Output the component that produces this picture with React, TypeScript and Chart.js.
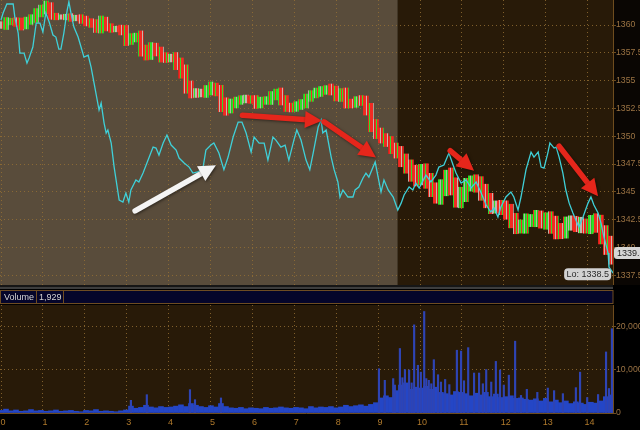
import React, { useEffect, useRef } from 'react';
import { Chart, registerables } from 'chart.js';

Chart.register(...registerables);

// ---------- data ----------
const hourTicks = [0, 1, 2, 3, 4, 5, 6, 7, 8, 9, 10, 11, 12, 13, 14];
const priceTicks = [1337.5, 1340, 1342.5, 1345, 1347.5, 1350, 1352.5, 1355, 1357.5, 1360];
const volumeTicks = [0, 10000, 20000];
const xMin = -0.024;
const xMax = 14.606;
const priceMin = 1336.63;
const priceMax = 1362.25;
const volumeMax = 25116;
const sessionBreak = 9.47;
const priceStep = 0.1193; // hours between sampled bars

const priceMid = [
  1360.0, 1360.27, 1360.36, 1360.18, 1360.0, 1360.36, 1360.63, 1361.08, 1361.44, 1361.71,
  1360.81, 1360.72, 1360.72, 1360.72, 1360.63, 1360.63, 1360.45, 1360.27, 1360.09, 1359.73,
  1360.36, 1359.82, 1359.64, 1359.64, 1359.46,
  1358.65, 1358.83, 1358.92, 1357.75, 1357.3, 1358.02, 1357.57, 1357.12, 1357.03, 1357.03,
  1356.49, 1355.77, 1354.52, 1353.89, 1353.89, 1353.89, 1354.16, 1354.43, 1353.98, 1352.81,
  1352.54, 1352.9, 1353.17, 1353.35, 1353.35,
  1353.26, 1352.9, 1353.17, 1353.26, 1353.62, 1353.89, 1353.26, 1352.63, 1352.54, 1352.81,
  1352.9, 1353.44, 1353.8, 1353.98, 1354.07, 1354.25, 1354.16, 1353.53, 1353.89, 1352.99,
  1352.9, 1353.26, 1353.17, 1352.36, 1351.01,
  1350.29, 1349.84, 1349.48, 1348.94, 1348.49, 1347.86, 1347.23, 1346.6, 1346.33, 1346.78,
  1346.07, 1345.17, 1344.63, 1345.35, 1346.25, 1345.62, 1344.27, 1344.72, 1345.62, 1345.89,
  1345.62, 1344.99, 1344.27, 1343.64, 1343.64,
  1343.55, 1343.19, 1342.47, 1341.84, 1341.93, 1342.38, 1342.47, 1342.74, 1342.29, 1342.47,
  1342.02, 1341.57, 1341.39, 1342.2, 1342.2, 1342.02, 1342.02, 1341.84, 1342.29, 1342.11,
  1341.12, 1340.22, 1339.3,
];

const priceRange = [
  0.6, 0.8, 0.5, 0.6, 0.9, 0.7, 0.6, 0.8, 0.7, 0.9, 0.6, 0.5, 0.4, 0.5, 0.6, 0.5, 0.6, 0.7, 0.6, 0.8, 0.9, 0.7, 0.6, 0.5, 0.7,
  1.0, 0.8, 0.7, 1.1, 0.9, 0.8, 0.7, 0.9, 0.8, 0.7, 1.0, 1.1, 1.3, 0.9, 0.8, 0.7, 0.8, 0.9, 0.7, 1.2, 1.3, 0.9, 0.7, 0.6, 0.7,
  0.6, 0.8, 0.7, 0.6, 0.8, 0.7, 0.9, 0.8, 0.7, 0.6, 0.8, 0.7, 0.6, 0.7, 0.8, 0.6, 0.9, 0.7, 0.8, 0.9, 0.7, 0.6, 0.8, 0.9, 1.2,
  1.0, 0.9, 0.8, 1.0, 0.9, 1.2, 1.1, 1.3, 1.6, 1.4, 1.5, 1.2, 1.3, 1.5, 1.4, 1.8, 1.3, 1.4, 1.2, 1.1, 1.3, 1.5, 1.4, 1.2, 1.1,
  1.2, 1.3, 1.4, 1.2, 1.1, 1.3, 1.0, 1.2, 1.1, 1.3, 1.5, 1.6, 1.2, 1.1, 1.3, 1.2, 1.4, 1.1, 1.2, 1.5, 1.6, 1.7, 1.6,
];

const cyanTime = [
  0.0, 0.05, 0.14, 0.29, 0.33, 0.41, 0.45, 0.55, 0.62, 0.67, 0.76, 0.84, 0.93, 1.0, 1.07, 1.15, 1.24, 1.31, 1.38, 1.43,
  1.5, 1.58, 1.62, 1.67, 1.74, 1.84, 1.91, 1.98, 2.08, 2.15, 2.22, 2.34, 2.39, 2.46, 2.51, 2.55, 2.63, 2.7, 2.82, 2.91,
  2.98, 3.05, 3.1, 3.22, 3.29, 3.39, 3.51, 3.63, 3.7, 3.77, 3.87, 3.96, 4.06, 4.18, 4.25, 4.37, 4.49, 4.58, 4.7, 4.82,
  4.89, 5.01, 5.08, 5.2, 5.32, 5.42, 5.54, 5.66, 5.75, 5.85, 5.97, 6.04, 6.16, 6.28, 6.37, 6.49, 6.56, 6.68, 6.78, 6.87,
  6.99, 7.06, 7.16, 7.28, 7.37, 7.45, 7.57, 7.64, 7.68, 7.76, 7.88, 7.95, 8.04, 8.09, 8.16, 8.28, 8.4, 8.45, 8.54, 8.64,
  8.71, 8.78, 8.88, 8.93, 9.0, 9.07, 9.14, 9.24, 9.36, 9.47, 9.55, 9.62, 9.74, 9.83, 9.9, 9.98, 10.14, 10.26, 10.38, 10.45,
  10.57, 10.69, 10.79, 10.86, 10.98, 11.1, 11.22, 11.34, 11.46, 11.58, 11.69, 11.77, 11.86, 11.93, 12.05, 12.17, 12.24, 12.34, 12.41, 12.53,
  12.65, 12.72, 12.82, 12.89, 12.96, 13.05, 13.1, 13.2, 13.25, 13.32, 13.41, 13.48, 13.56, 13.65, 13.72, 13.79, 13.89, 14.01, 14.08, 14.15,
  14.25, 14.32, 14.39, 14.49, 14.51, 14.61,
];

const cyanValue = [
  1360.45, 1361.08, 1361.89, 1361.89, 1360.72, 1359.28, 1357.48, 1357.48, 1356.58, 1357.03, 1358.02, 1360.18, 1360.18, 1359.37, 1361.08, 1360.27, 1359.1, 1358.92, 1357.84, 1357.84,
  1359.28, 1361.35, 1362.1, 1361.08, 1359.82, 1358.92, 1358.02, 1357.12, 1357.3, 1356.22, 1354.79, 1352.36, 1352.99, 1351.19, 1350.29, 1350.56, 1349.39, 1347.23, 1344.27, 1344.09,
  1344.9, 1344.09, 1345.17, 1346.07, 1345.89, 1346.69, 1347.86, 1349.03, 1348.94, 1348.31, 1349.39, 1350.11, 1349.21, 1348.76, 1348.04, 1347.59, 1347.23, 1346.69, 1346.79, 1347.14,
  1348.76, 1349.21, 1349.39, 1348.49, 1347.0, 1348.13, 1349.93, 1351.28, 1351.28, 1350.29, 1348.58, 1349.93, 1349.39, 1349.39, 1347.86, 1349.93, 1349.66, 1349.03, 1349.21, 1347.86,
  1349.66, 1350.56, 1349.66, 1347.86, 1347.0, 1348.49, 1350.83, 1351.46, 1350.29, 1350.56, 1348.13, 1347.0, 1345.89, 1344.54, 1345.17, 1344.54, 1344.54, 1345.17, 1345.44, 1346.25,
  1346.69, 1346.33, 1347.23, 1347.68, 1346.33, 1344.99, 1346.07, 1345.17, 1344.54, 1343.37, 1343.99, 1344.72, 1345.44, 1345.17, 1345.79, 1345.35, 1346.51, 1345.89, 1346.51, 1347.23,
  1347.41, 1348.49, 1347.41, 1346.69, 1345.79, 1346.07, 1345.35, 1345.89, 1344.9, 1343.82, 1343.19, 1343.55, 1342.74, 1343.64, 1344.54, 1344.99, 1344.54, 1343.37, 1344.54, 1347.0,
  1348.58, 1348.13, 1348.58, 1347.23, 1347.14, 1348.49, 1349.39, 1348.94, 1349.03, 1348.13, 1346.69, 1345.17, 1343.99, 1343.1, 1342.47, 1341.84, 1342.74, 1343.99, 1344.54, 1343.82,
  1343.1, 1342.2, 1340.94, 1339.5, 1338.24, 1337.7,
];

const volumeBase = [
  600, 900, 500, 700, 400, 500, 800, 500, 600, 400, 500, 700, 400, 500, 600, 400, 300, 600, 500, 800, 400, 500, 400, 300, 500,
  700, 1600, 1100, 1300, 1800, 1400, 1200, 1500, 1300, 1400,
  1600, 1900, 1500, 2200, 1800, 1500, 1300, 1700, 1400, 2200,
  1500, 1200, 1100, 1300, 1000, 1200, 1100, 1000, 1300, 1100,
  1200, 1400, 1200, 1100, 1300, 1200, 1000, 1500, 1200, 1400,
  1300, 1500, 1200, 1400, 1800, 1500, 1700, 1900, 1600, 2000,
  2400,
  3500, 4000, 3600, 5200, 6500, 7000, 5500, 6000, 5800, 6200,
  5500, 6000, 4800, 4500, 4200, 5000, 4800, 4500, 4000, 4600,
  4200, 4800, 3800, 4400, 3600, 3800, 4000, 3400, 3500, 3200,
  3000, 3300, 2800, 3400, 2600, 3000, 2400, 2800, 2200, 2600,
  2300, 2000, 2500, 2300, 2800, 3800, 4200,
];

const spikeTime = [
  3.1, 3.48, 4.51, 4.63, 5.25, 9.02, 9.16, 9.36, 9.4, 9.52, 9.58, 9.64, 9.74, 9.8, 9.86, 9.95, 10.02, 10.1, 10.15, 10.21,
  10.27, 10.33, 10.43, 10.5, 10.6, 10.7, 10.88, 10.98, 11.05, 11.15, 11.29, 11.41, 11.5, 11.58, 11.7, 11.81, 11.91, 12.0, 12.12, 12.27,
  12.41, 12.55, 12.8, 13.05, 13.2, 13.41, 13.72, 13.82, 13.99, 14.25, 14.44, 14.51, 14.58,
];
const spikeVolume = [
  2950, 4260, 5430, 3100, 3500, 10300, 7600, 8000, 6500, 15000, 8200, 10100, 10000, 7000, 20500, 11100, 9500, 23600, 8000, 7600,
  6800, 12400, 8900, 7200, 7800, 6600, 14600, 14400, 7500, 15200, 9300, 9300, 6800, 10100, 7200, 12000, 10000, 6500, 8800, 16700,
  4100, 5500, 4800, 5800, 5200, 4500, 5900, 9500, 3600, 4300, 14200, 5700, 19600,
];

const lastPrice = 1339.5;
const lowPrice = 1338.5;
const lowTime = 14.55;
const lastVolume = 1929;

// annotation arrows in data units (hours, price)
const arrowFromT = [3.2, 5.76, 7.71, 10.72, 13.32];
const arrowFromP = [1343.3, 1351.9, 1351.3, 1348.7, 1349.1];
const arrowToT = [5.13, 7.66, 8.95, 11.29, 14.25];
const arrowToP = [1347.4, 1351.4, 1348.1, 1346.9, 1344.6];
const arrowColor = ['#f4f4f4', '#e5261b', '#e5261b', '#e5261b', '#e5261b'];

// ---------- styles ----------
const GRID = 'rgba(150,112,52,0.8)';
const AXIS = '#6e4c1e';
const LABEL = '#9c7444';
const XLABEL = '#b07a2c';
const GRAY_BG = '#594c3b';
const DARK_BG = '#281a08';
const FONT = 'Liberation Sans';

function stripePattern(cols: string[]) {
  const c = document.createElement('canvas');
  c.width = cols.length;
  c.height = 1;
  const g = c.getContext('2d')!;
  cols.forEach((col, i) => {
    g.fillStyle = col;
    g.fillRect(i, 0, 1, 1);
  });
  return g.createPattern(c, 'repeat')!;
}

function drawArrow(ctx: CanvasRenderingContext2D, x1: number, y1: number, x2: number, y2: number, color: string) {
  const dx = x2 - x1;
  const dy = y2 - y1;
  const len = Math.hypot(dx, dy);
  const ux = dx / len;
  const uy = dy / len;
  const headLen = 17;
  const headW = 8.5;
  const bx = x2 - ux * headLen;
  const by = y2 - uy * headLen;
  ctx.save();
  ctx.shadowColor = 'rgba(0,0,0,0.5)';
  ctx.shadowBlur = 3;
  ctx.shadowOffsetX = 1;
  ctx.shadowOffsetY = 1;
  ctx.strokeStyle = color;
  ctx.fillStyle = color;
  ctx.lineWidth = 5.5;
  ctx.lineCap = 'round';
  ctx.beginPath();
  ctx.moveTo(x1, y1);
  ctx.lineTo(bx + ux * 2, by + uy * 2);
  ctx.stroke();
  ctx.beginPath();
  ctx.moveTo(x2, y2);
  ctx.lineTo(bx - uy * headW, by + ux * headW);
  ctx.lineTo(bx + uy * headW, by - ux * headW);
  ctx.closePath();
  ctx.fill();
  ctx.restore();
}

function roundRect(ctx: CanvasRenderingContext2D, x: number, y: number, w: number, h: number, r: number) {
  ctx.beginPath();
  ctx.moveTo(x + r, y);
  ctx.lineTo(x + w - r, y);
  ctx.quadraticCurveTo(x + w, y, x + w, y + r);
  ctx.lineTo(x + w, y + h - r);
  ctx.quadraticCurveTo(x + w, y + h, x + w - r, y + h);
  ctx.lineTo(x + r, y + h);
  ctx.quadraticCurveTo(x, y + h, x, y + h - r);
  ctx.lineTo(x, y + r);
  ctx.quadraticCurveTo(x, y, x + r, y);
  ctx.closePath();
}

export default function App() {
  const mainRef = useRef<HTMLCanvasElement | null>(null);
  const volRef = useRef<HTMLCanvasElement | null>(null);

  useEffect(() => {
    if (!mainRef.current || !volRef.current) return;

    const upFill = stripePattern(['#2ee02a', '#2ee02a', '#b9b0a6', '#22c81e', '#2ee02a', '#f22a22']);
    const downFill = stripePattern(['#f22a22', '#f22a22', '#c4b8ac', '#e01e18', '#f22a22', '#2ee02a', '#f22a22']);
    const flatFill = stripePattern(['#c0b6aa', '#c0b6aa', '#f22a22', '#c0b6aa', '#2ee02a']);

    const priceBars = priceMid.map((m, i) => {
      const prev = i === 0 ? m : priceMid[i - 1];
      const lo = Math.min(prev, m) - priceRange[i] / 2;
      const hi = Math.max(prev, m) + priceRange[i] / 2;
      return { x: i * priceStep, y: [lo, hi] };
    });
    const barColors = priceMid.map((m, i) => {
      const d = i === 0 ? 0 : m - priceMid[i - 1];
      if (d > 0.04) return upFill;
      if (d < -0.04) return downFill;
      return flatFill;
    });

    const mainBg = {
      id: 'mainBg',
      beforeDraw(chart: any) {
        const { ctx, chartArea: a, scales } = chart;
        ctx.save();
        ctx.fillStyle = '#0a0603';
        ctx.fillRect(0, 0, chart.width, chart.height);
        const xb = scales.x.getPixelForValue(sessionBreak);
        ctx.fillStyle = GRAY_BG;
        ctx.fillRect(a.left, a.top, xb - a.left, a.bottom - a.top);
        ctx.fillStyle = DARK_BG;
        ctx.fillRect(xb, a.top, a.right - xb, a.bottom - a.top);
        ctx.restore();
      },
      afterDatasetsDraw(chart: any) {
        const { ctx, scales } = chart;
        for (let i = 0; i < arrowFromT.length; i++) {
          drawArrow(
            ctx,
            scales.x.getPixelForValue(arrowFromT[i]),
            scales.y.getPixelForValue(arrowFromP[i]),
            scales.x.getPixelForValue(arrowToT[i]),
            scales.y.getPixelForValue(arrowToP[i]),
            arrowColor[i],
          );
        }
      },
      afterDraw(chart: any) {
        const { ctx, chartArea: a, scales } = chart;
        ctx.save();
        ctx.strokeStyle = AXIS;
        ctx.lineWidth = 1;
        ctx.beginPath();
        ctx.moveTo(a.right + 0.5, a.top);
        ctx.lineTo(a.right + 0.5, a.bottom);
        ctx.stroke();
        // last price tag
        const ly = scales.y.getPixelForValue(lastPrice);
        ctx.fillStyle = '#d6d6d6';
        roundRect(ctx, a.right + 1, ly - 6, 34, 12, 3);
        ctx.fill();
        ctx.fillStyle = '#1e1e1e';
        ctx.font = `9px "${FONT}"`;
        ctx.textBaseline = 'middle';
        ctx.textAlign = 'left';
        ctx.fillText(lastPrice.toFixed(1), a.right + 4, ly + 0.5);
        // low tag
        const lx = scales.x.getPixelForValue(lowTime);
        const lowY = scales.y.getPixelForValue(lowPrice);
        const txt = 'Lo: ' + lowPrice.toFixed(1);
        const w = 47;
        ctx.fillStyle = '#d2d2d2';
        roundRect(ctx, lx + 0.5 - w, lowY + 4, w, 12, 4);
        ctx.fill();
        ctx.fillStyle = '#2a2a2a';
        ctx.textAlign = 'center';
        ctx.fillText(txt, lx + 0.5 - w / 2, lowY + 10.5);
        ctx.restore();
      },
    };

    const main = new Chart(mainRef.current, {
      type: 'bar',
      data: {
        datasets: [
          {
            type: 'line',
            data: cyanTime.map((t, i) => ({ x: t, y: cyanValue[i] })),
            borderColor: '#3fd0d8',
            borderWidth: 1.3,
            pointRadius: 0,
            tension: 0,
            order: 0,
          } as any,
          {
            type: 'bar',
            data: priceBars,
            backgroundColor: barColors,
            barThickness: 5,
            grouped: false,
            borderWidth: 0,
            order: 1,
          } as any,
        ],
      },
      options: {
        animation: false,
        responsive: false,
        events: [],
        layout: { padding: 0, autoPadding: false } as any,
        plugins: { legend: { display: false }, tooltip: { enabled: false } },
        scales: {
          x: {
            type: 'linear',
            min: xMin,
            max: xMax,
            offset: false,
            grid: { color: GRID, drawTicks: false, offset: false },
            border: { display: false, dash: [1, 3] },
            ticks: { display: false },
            afterBuildTicks: (s: any) => { s.ticks = hourTicks.map((v) => ({ value: v })); },
            afterFit: (s: any) => { s.height = 0; s.paddingLeft = 0; s.paddingRight = 0; },
          },
          y: {
            type: 'linear',
            position: 'right',
            min: priceMin,
            max: priceMax,
            grid: { color: GRID, tickColor: AXIS, tickLength: 3 },
            border: { display: false, dash: [1, 3] },
            ticks: { color: LABEL, font: { size: 8.7, family: FONT }, padding: 0, callback: (v: any) => String(v) },
            afterBuildTicks: (s: any) => { s.ticks = priceTicks.map((v) => ({ value: v })); },
            afterFit: (s: any) => { s.width = 27; s.paddingTop = 0; s.paddingBottom = 0; },
          },
        },
      } as any,
      plugins: [mainBg],
    });

    const volBg = {
      id: 'volBg',
      beforeDraw(chart: any) {
        const { ctx, chartArea: a } = chart;
        ctx.save();
        ctx.fillStyle = '#000000';
        ctx.fillRect(0, 0, chart.width, chart.height);
        // separator band
        ctx.fillStyle = '#161616';
        ctx.fillRect(0, 0, a.right, 2);
        ctx.fillStyle = '#3e3e3e';
        ctx.fillRect(0, 2, a.right, 2);
        // header bar
        ctx.fillStyle = '#05052a';
        ctx.fillRect(0, 5, a.right, 14);
        ctx.strokeStyle = '#6e4c22';
        ctx.lineWidth = 1;
        ctx.strokeRect(0.5, 5.5, a.right - 0.5, 13);
        ctx.beginPath();
        ctx.moveTo(36.5, 5.5);
        ctx.lineTo(36.5, 18.5);
        ctx.moveTo(63.5, 5.5);
        ctx.lineTo(63.5, 18.5);
        ctx.stroke();
        ctx.fillStyle = '#d4d4d4';
        ctx.font = `9px "${FONT}"`;
        ctx.textBaseline = 'middle';
        ctx.textAlign = 'left';
        ctx.fillText('Volume', 4, 12.5);
        ctx.fillText(lastVolume.toLocaleString('en-US'), 39, 12.5);
        // plot background
        ctx.fillStyle = DARK_BG;
        ctx.fillRect(a.left, a.top, a.right - a.left, a.bottom - a.top);
        ctx.restore();
      },
      afterDraw(chart: any) {
        const { ctx, chartArea: a } = chart;
        ctx.save();
        ctx.strokeStyle = AXIS;
        ctx.lineWidth = 1;
        ctx.beginPath();
        ctx.moveTo(a.right + 0.5, a.top);
        ctx.lineTo(a.right + 0.5, a.bottom + 0.5);
        ctx.moveTo(a.left, a.bottom + 0.5);
        ctx.lineTo(a.right + 0.5, a.bottom + 0.5);
        ctx.stroke();
        ctx.restore();
      },
    };

    const vol = new Chart(volRef.current, {
      type: 'bar',
      data: {
        datasets: [
          {
            data: spikeTime.map((t, i) => ({ x: t, y: spikeVolume[i] })),
            backgroundColor: '#2e44b4',
            barThickness: 1.5,
            grouped: false,
            borderWidth: 0,
            order: 0,
          } as any,
          {
            data: volumeBase.map((v, i) => ({ x: i * priceStep, y: v })),
            backgroundColor: '#2446c6',
            barThickness: 5,
            grouped: false,
            borderWidth: 0,
            order: 1,
          } as any,
        ],
      },
      options: {
        animation: false,
        responsive: false,
        events: [],
        layout: { padding: { top: 20, left: 0, right: 0, bottom: 0 }, autoPadding: false } as any,
        plugins: { legend: { display: false }, tooltip: { enabled: false } },
        scales: {
          x: {
            type: 'linear',
            min: xMin,
            max: xMax,
            offset: false,
            grid: { color: GRID, drawTicks: false, offset: false },
            border: { display: false, dash: [1, 3] },
            ticks: {
              color: XLABEL,
              font: { size: 9, family: FONT },
              padding: 4,
              labelOffset: 2,
              maxRotation: 0,
              autoSkip: false,
              callback: (v: any) => String(v),
            },
            afterBuildTicks: (s: any) => { s.ticks = hourTicks.map((v) => ({ value: v })); },
            afterFit: (s: any) => { s.height = 17; s.paddingLeft = 0; s.paddingRight = 0; },
          },
          y: {
            type: 'linear',
            position: 'right',
            min: 0,
            max: volumeMax,
            grid: { color: GRID, tickColor: AXIS, tickLength: 3 },
            border: { display: false, dash: [1, 3] },
            ticks: {
              color: LABEL,
              font: { size: 8.7, family: FONT },
              padding: 0,
              callback: (v: any) => Number(v).toLocaleString('en-US'),
            },
            afterBuildTicks: (s: any) => { s.ticks = volumeTicks.map((v) => ({ value: v })); },
            afterFit: (s: any) => { s.width = 27; s.paddingTop = 0; s.paddingBottom = 0; },
          },
        },
      } as any,
      plugins: [volBg],
    });

    return () => {
      main.destroy();
      vol.destroy();
    };
  }, []);

  return (
    <div style={{ position: 'fixed', left: 0, top: 0, width: 640, height: 430, background: '#000', overflow: 'hidden' }}>
      <canvas ref={mainRef} width={640} height={285} style={{ position: 'absolute', left: 0, top: 0, width: 640, height: 285 }} />
      <canvas ref={volRef} width={640} height={145} style={{ position: 'absolute', left: 0, top: 285, width: 640, height: 145 }} />
    </div>
  );
}
